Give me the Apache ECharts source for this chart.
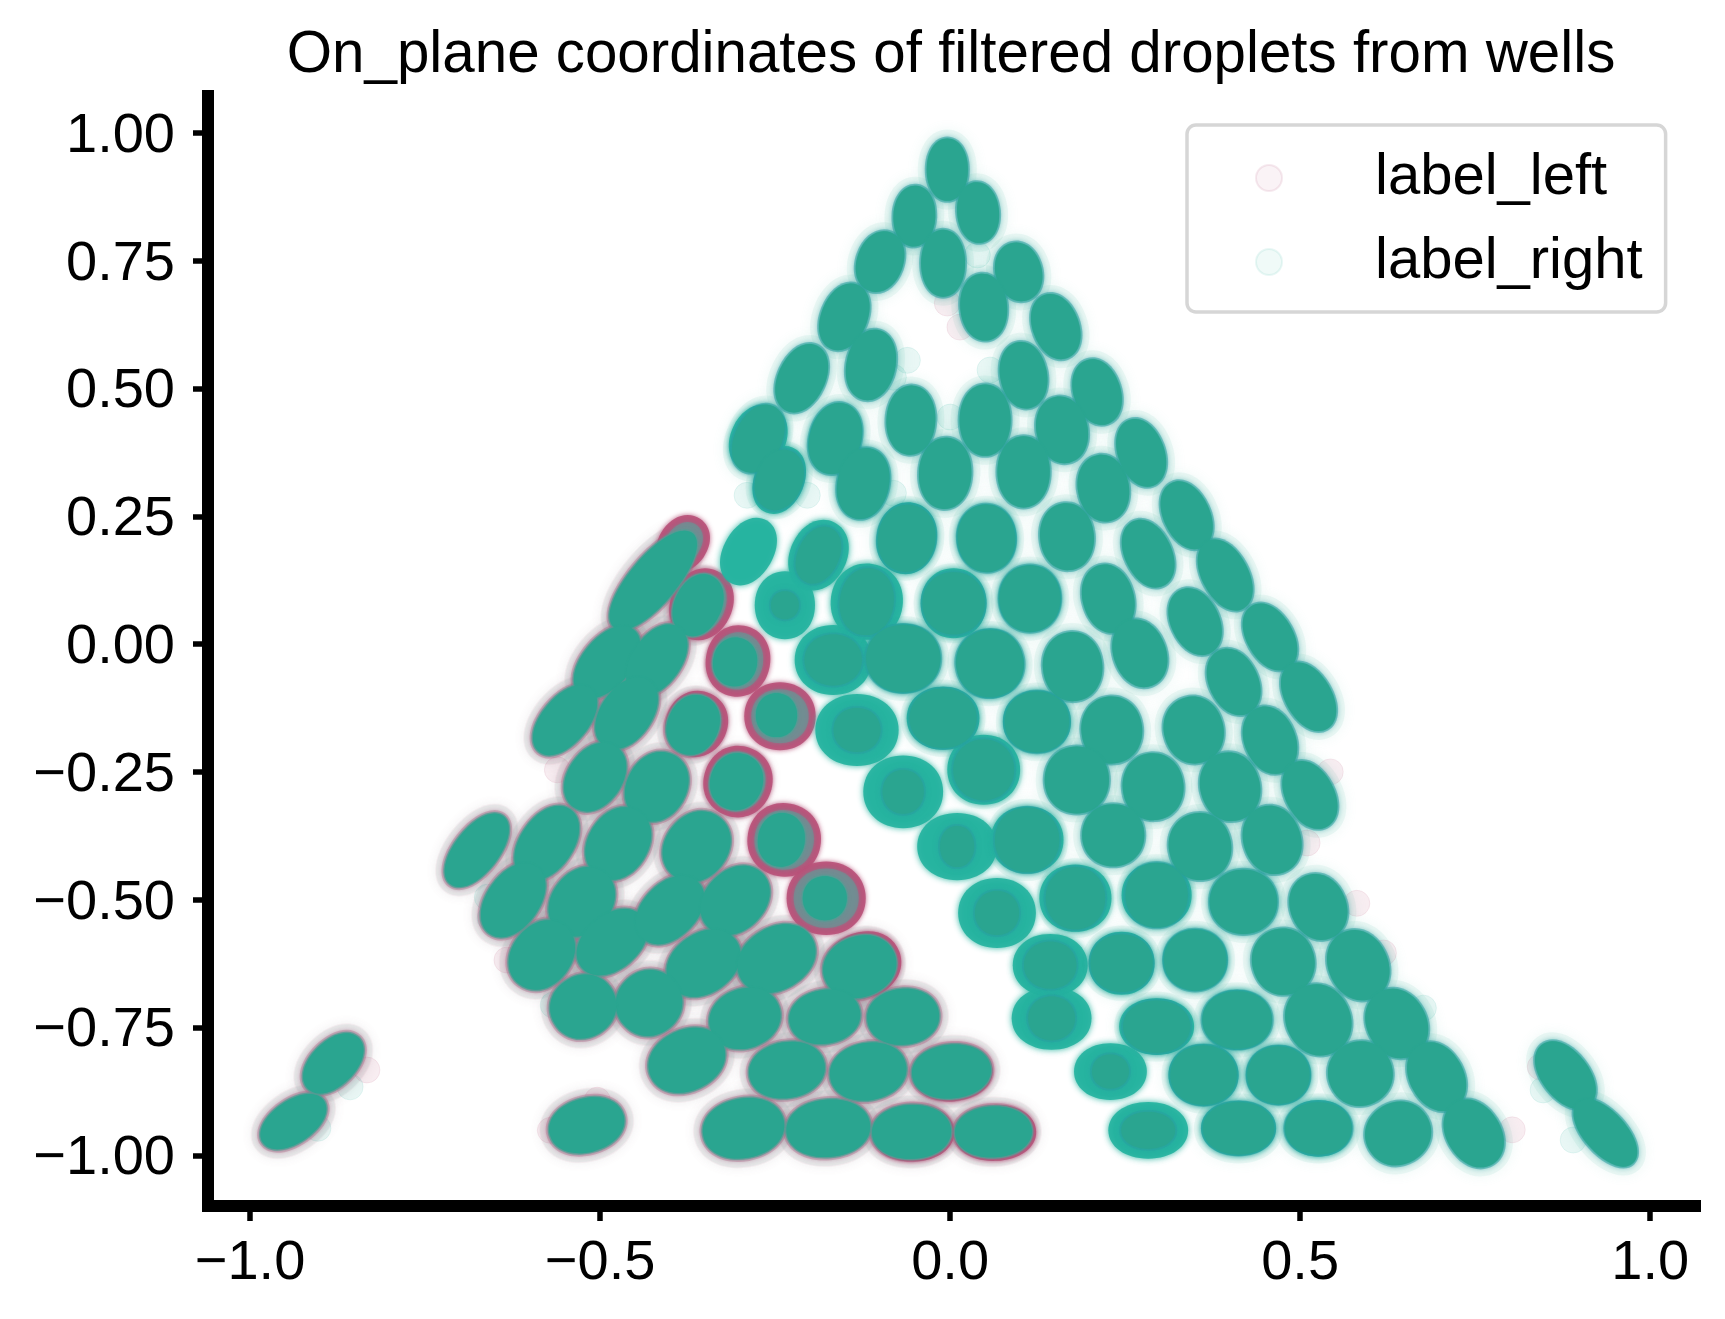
<!DOCTYPE html>
<html>
<head>
<meta charset="utf-8">
<style>html,body{margin:0;padding:0;background:#fff}#c{width:1725px;height:1319px}</style>
<script src="https://cdn.jsdelivr.net/npm/echarts@6/dist/echarts.min.js"></script>
</head>
<body>
<div id="c"></div>
<script>
const chartTitle = 'On_plane coordinates of filtered droplets from wells';
const xTicks = [-1, -0.5, 0, 0.5, 1];
const yTicks = [-1, -0.75, -0.5, -0.25, 0, 0.25, 0.5, 0.75, 1];
const labelLeft = 'label_left';
const labelRight = 'label_right';

// One record per droplet cluster: [x, y, short spread, long spread, lean in degrees].
const rightCore = [
[-.004,.928,.053,.083,0],[-.051,.837,.054,.081,3],[.040,.844,.054,.081,-5],[-.100,.748,.060,.083,20],
[-.010,.745,.057,.090,0],[.098,.728,.060,.079,-15],[.048,.659,.061,.090,-5],[-.151,.640,.060,.093,22],
[.151,.621,.060,.090,-20],[-.113,.546,.064,.096,12],[-.212,.520,.061,.097,25],[.105,.526,.061,.090,-10],
[.210,.493,.061,.090,-18],[-.056,.438,.064,.093,3],[.050,.438,.067,.096,0],[.160,.419,.067,.090,-12],
[-.164,.402,.067,.097,15],[-.274,.402,.061,.096,25],[-.244,.321,.060,.083,22],[-.124,.314,.067,.096,12],
[-.007,.334,.069,.096,3],[.105,.337,.069,.096,0],[.219,.305,.067,.090,-10],[.273,.374,.060,.094,-20],
[.338,.252,.060,.096,-25],[.167,.210,.071,.090,-5],[.283,.177,.061,.096,-25],[.393,.135,.060,.103,-28],
[.226,.089,.067,.093,-15],[.271,-.018,.069,.093,-20],[.350,.044,.063,.094,-25],[.457,.014,.060,.097,-30],
[.175,-.044,.079,.093,-5],[.405,-.074,.064,.093,-25],[.512,-.103,.060,.100,-30],[.231,-.168,.081,.090,-5],
[.348,-.168,.079,.090,-15],[.457,-.188,.067,.093,-22],[.181,-.266,.086,.090,0],[.290,-.279,.081,.090,-5],
[.400,-.279,.079,.093,-15],[.514,-.295,.063,.097,-28],[.233,-.374,.083,.083,0],[.357,-.396,.083,.090,-10],
[.460,-.383,.076,.093,-18],[-.188,.174,.053,.079,25],[-.236,.076,.034,.034,0],[-.062,.207,.076,.090,10],
[.052,.207,.076,.090,-3],[-.119,.083,.071,.090,8],[.005,.080,.083,.083,0],[.114,.089,.081,.089,0],
[-.167,-.031,.067,.076,90],[-.067,-.028,.090,.100,90],[.057,-.038,.090,.090,-10],[-.133,-.168,.057,.061,90],
[-.010,-.145,.079,.090,90],[.124,-.152,.081,.086,90],[.048,-.246,.081,.081,0],[-.067,-.289,.053,.057,0],
[.010,-.396,.043,.053,0],[.110,-.383,.086,.086,0],[.067,-.526,.057,.057,0],[.179,-.497,.079,.083,0],
[.295,-.491,.083,.086,0],[.419,-.504,.086,.090,90],[.526,-.514,.074,.090,-22],[.143,-.628,.061,.069,90],
[.245,-.624,.076,.083,90],[.350,-.618,.081,.083,90],[.476,-.621,.083,.089,-15],[.583,-.628,.079,.097,-25],
[.145,-.732,.057,.061,90],[.295,-.748,.069,.090,90],[.410,-.735,.076,.093,90],[.526,-.735,.086,.097,-25],
[.638,-.742,.079,.096,-28],[.229,-.836,.043,.047,90],[.362,-.843,.079,.089,90],[.469,-.843,.076,.083,90],
[.586,-.840,.086,.086,-25],[.695,-.846,.071,.097,-28],[.283,-.951,.047,.071,90],[.412,-.947,.069,.096,90],
[.526,-.947,.069,.089,90],[.640,-.957,.083,.089,60],[.748,-.957,.071,.097,-32],[.879,-.843,.061,.104,-38],
[.936,-.956,.054,.111,-42]
];

// Wider, brighter rings round the clusters of the middle of the triangle.
const rightFringe = [
[-.274,.402,.079,.100,25],[-.244,.321,.071,.100,22],[-.164,.402,.075,.102,15],[-.124,.314,.074,.102,12],
[-.188,.174,.081,.104,25],[-.236,.076,.086,.097,0],[-.288,.181,.071,.103,30],[-.062,.207,.086,.103,10],
[.052,.207,.086,.097,-3],[-.119,.083,.103,.109,8],[.005,.080,.094,.100,0],[.114,.089,.090,.096,0],
[-.167,-.031,.100,.110,90],[-.067,-.028,.100,.107,90],[.057,-.038,.097,.100,-10],[-.133,-.168,.103,.119,90],
[-.010,-.145,.090,.104,90],[.124,-.152,.090,.097,90],[.048,-.246,.100,.104,90],[-.067,-.289,.104,.114,90],
[.010,-.396,.096,.114,90],[.110,-.383,.096,.104,90],[.067,-.526,.100,.111,90],[.179,-.497,.096,.103,90],
[.295,-.491,.093,.100,90],[.419,-.504,.090,.097,90],[.143,-.628,.089,.107,90],[.245,-.624,.090,.094,90],
[.350,-.618,.089,.093,90],[.145,-.732,.090,.114,90],[.295,-.748,.081,.107,90],[.410,-.735,.086,.100,90],
[.229,-.836,.081,.104,90],[.362,-.843,.089,.100,90],[.469,-.843,.086,.093,90],[.283,-.951,.081,.114,90],
[.412,-.947,.079,.107,90],[.526,-.947,.081,.097,90]
];

const leftCore = [
[-.424,.125,.061,.169,40],[-.360,.076,.061,.086,25],[-.490,-.035,.063,.114,40],[-.550,-.149,.060,.111,40],
[-.419,-.031,.064,.107,35],[-.462,-.135,.067,.107,35],[-.307,-.035,.057,.064,10],[-.248,-.139,.053,.057,0],
[-.367,-.158,.067,.081,25],[-.507,-.260,.071,.100,35],[-.419,-.279,.079,.097,30],[-.305,-.269,.069,.076,20],
[-.676,-.403,.057,.117,38],[-.576,-.389,.069,.111,35],[-.624,-.501,.069,.111,35],[-.474,-.390,.079,.103,33],
[-.362,-.396,.083,.100,38],[-.241,-.383,.061,.071,10],[-.526,-.504,.079,.100,38],[-.583,-.608,.079,.100,38],
[-.483,-.583,.071,.107,50],[-.400,-.520,.071,.107,45],[-.307,-.501,.079,.103,45],[-.179,-.497,.057,.057,0],
[-.352,-.624,.079,.107,55],[-.248,-.615,.083,.111,60],[-.129,-.631,.081,.100,70],[-.430,-.702,.086,.089,50],
[-.524,-.709,.083,.089,60],[-.293,-.732,.079,.097,70],[-.179,-.729,.071,.096,80],[-.067,-.729,.074,.097,85],
[-.376,-.814,.081,.107,65],[-.233,-.833,.074,.103,80],[-.117,-.836,.076,.104,80],[.002,-.836,.071,.107,85],
[-.295,-.947,.079,.111,80],[-.174,-.947,.076,.114,85],[-.055,-.954,.071,.107,88],[.062,-.954,.067,.104,88],
[-.881,-.820,.057,.097,45],[-.938,-.934,.054,.100,55],[-.519,-.941,.071,.103,75]
];

// The strong rose rims where label_left lies outside label_right.
const leftRims = [
[-.381,.197,.070,.085,35],[-.355,.078,.088,.105,25],[-.303,-.033,.092,.102,10],[-.243,-.141,.102,.097,0],
[-.362,-.156,.088,.095,25],[-.303,-.269,.098,.102,20],[-.237,-.383,.105,.105,10],[-.177,-.497,.113,.105,0],
[-.125,-.628,.094,.112,70],[.003,-.838,.082,.116,85],[-.053,-.956,.082,.118,88],[.064,-.956,.080,.118,88]
];

// Single faint droplets that can be seen apart from the clusters.
const strayLeft = [
[-.004,.667,0,0,0],[.014,.620,0,0,0],[.543,-.250,0,0,0],[.510,-.389,0,0,0],[.581,-.507,0,0,0],[.619,-.604,0,0,0],
[.803,-.950,0,0,0],[-.833,-.833,0,0,0],[-.504,-.892,0,0,0],[-.571,-.951,0,0,0],[-.633,-.618,0,0,0],[-.561,-.246,0,0,0],
[.843,-.827,0,0,0]
];
const strayRight = [
[-.061,.555,0,0,0],[-.081,.522,0,0,0],[.057,.536,0,0,0],[.039,.761,0,0,0],[-.081,.295,0,0,0],[-.204,.291,0,0,0],
[-.290,.291,0,0,0],[0,.444,0,0,0],[.676,-.712,0,0,0],[.847,-.872,0,0,0],[.890,-.970,0,0,0],[-.857,-.866,0,0,0],
[-.903,-.947,0,0,0],[-.661,-.495,0,0,0],[-.657,-.536,0,0,0],[-.567,-.706,0,0,0]
];

const blob = 'path://M0 100C0 42 42 0 100 0C158 0 200 42 200 100C200 158 158 200 100 200C42 200 0 158 0 100Z';
const pxPerUnit = 700;
function layer(name, data, grow, color, opacity, blur) {
  return {
    type: 'scatter', name, data, silent: true, animation: false,
    symbol: blob,
    symbolSize: v => [v[2] * pxPerUnit + grow, v[3] * pxPerUnit + grow],
    symbolRotate: v => -v[4],
    itemStyle: { color, opacity, shadowBlur: blur, shadowColor: color },
    emphasis: { disabled: true }
  };
}
function ring(name, data, color) {
  return {
    type: 'scatter', name, data, silent: true, animation: false,
    symbol: 'circle', symbolSize: 26,
    itemStyle: { color, opacity: 0.1, borderColor: color, borderWidth: 1 },
    emphasis: { disabled: true }
  };
}
const rose = '#b8527a', teal = '#2aa590', bright = '#25b3a0', blueRing = '#2a9fa2';

const chart = echarts.init(document.getElementById('c'), null, { renderer: 'canvas' });
chart.setOption({
  backgroundColor: '#fff',
  animation: false,
  textStyle: { fontFamily: 'Liberation Sans' },
  title: {
    text: chartTitle, left: 946, top: 22, textAlign: 'center',
    textStyle: { fontFamily: 'Liberation Sans', fontSize: 58.3, fontWeight: 'normal', color: '#000' }
  },
  legend: {
    orient: 'vertical', left: 1187, top: 125,
    data: [
      { name: labelLeft, icon: 'circle', itemStyle: { opacity: 1, color: 'rgba(184,82,122,0.07)', borderColor: 'rgba(184,82,122,0.12)', borderWidth: 2 } },
      { name: labelRight, icon: 'circle', itemStyle: { opacity: 1, color: 'rgba(37,179,160,0.07)', borderColor: 'rgba(37,179,160,0.10)', borderWidth: 2 } }
    ],
    itemWidth: 26, itemHeight: 26, itemGap: 26,
    padding: [24, 23, 21, 68],
    backgroundColor: '#fff', borderColor: '#d6d6d6', borderWidth: 3.5, borderRadius: 9,
    textStyle: { fontFamily: 'Liberation Sans', fontSize: 58, color: '#000', padding: [0, 0, 0, 88] }
  },
  grid: { left: 208, right: 30, top: 96, bottom: 113, containLabel: false },
  xAxis: {
    type: 'value', min: -1.06, max: 1.064,
    splitLine: { show: false },
    axisLine: { onZero: false, lineStyle: { color: '#000', width: 12, cap: 'square' } },
    axisTick: { customValues: xTicks, length: 15, lineStyle: { color: '#000', width: 5.5 } },
    axisLabel: {
      customValues: xTicks, margin: 30, color: '#000', fontSize: 56, fontFamily: 'Liberation Sans',
      formatter: v => (v < 0 ? '\u2212' : '') + Math.abs(v).toFixed(1)
    }
  },
  yAxis: {
    type: 'value', min: -1.099, max: 1.072,
    splitLine: { show: false },
    axisLine: { onZero: false, lineStyle: { color: '#000', width: 12, cap: 'square' } },
    axisTick: { customValues: yTicks, length: 15, lineStyle: { color: '#000', width: 5.5 } },
    axisLabel: {
      customValues: yTicks, margin: 33, color: '#000', fontSize: 56, fontFamily: 'Liberation Sans',
      formatter: v => '{t|' + (v < 0 ? '\u2212' : '') + Math.abs(v).toFixed(2) + '}',
      rich: { t: { color: '#000', fontSize: 56, fontFamily: 'Liberation Sans', padding: [7, 0, 0, 0] } }
    }
  },
  series: [
    layer(labelLeft, leftCore, 24, rose, 0.06, 12),
    layer(labelRight, leftCore, 22, '#7fb9b2', 0.10, 10),
    layer(labelRight, rightCore, 22, '#6fc4b8', 0.11, 12),
    ring(labelLeft, strayLeft, rose),
    ring(labelRight, strayRight, bright),
    layer(labelLeft, leftCore, 11, rose, 0.30, 5),
    layer(labelLeft, leftRims, 0, rose, 0.92, 5),
    layer(labelRight, leftRims, -14, '#5f9c99', 0.55, 4),
    layer(labelRight, rightFringe, 0, bright, 0.92, 6),
    layer(labelRight, rightCore, 8, blueRing, 0.5, 5),
    layer(labelRight, leftCore, 7, '#5f9a96', 0.7, 3),
    layer(labelRight, rightCore, 4, teal, 1, 2),
    layer(labelRight, leftCore, 4, teal, 1, 2)
  ]
});
</script>
</body>
</html>
